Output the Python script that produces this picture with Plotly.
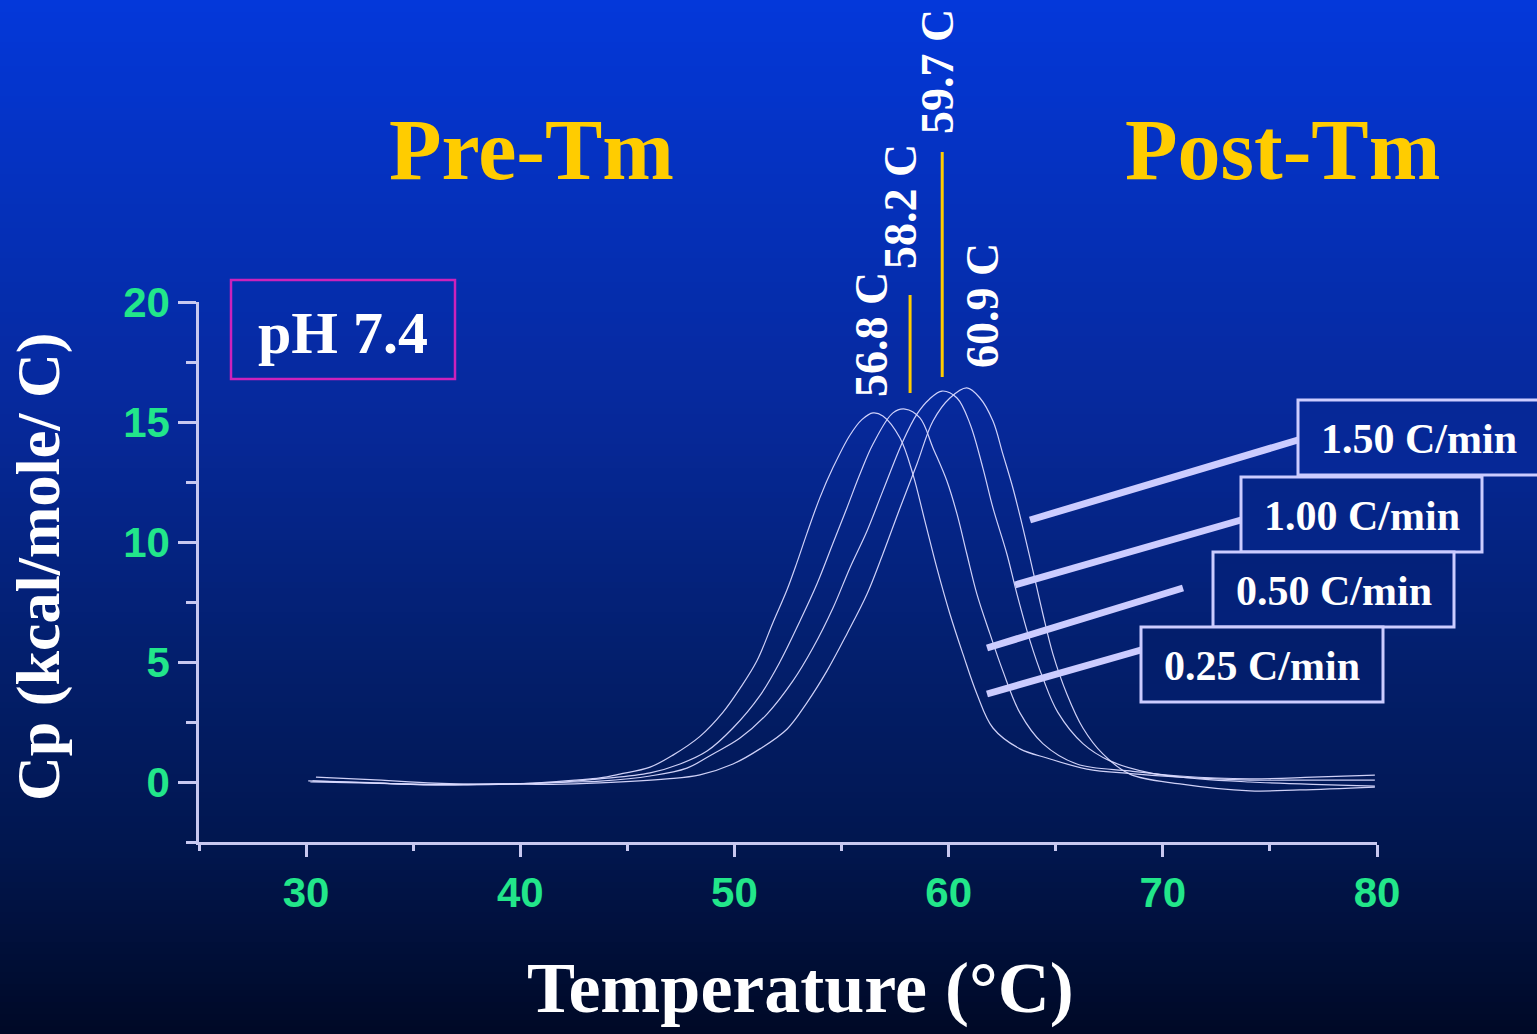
import plotly.graph_objects as go

# ---------------- data ----------------
rate_labels = ["0.25 C/min", "0.50 C/min", "1.00 C/min", "1.50 C/min"]
tm_values = [56.8, 58.2, 59.7, 60.9]
tm_labels = ["56.8 C", "58.2 C", "59.7 C", "60.9 C"]

temp_025 = [30.46, 33.0, 36.0, 38.5, 41.0, 42.6, 43.72, 44.65, 46.06, 47.13, 48.39, 49.46, 50.26, 51.05,
            51.80, 52.45, 52.92, 53.38, 53.99, 54.60, 55.39, 55.95, 56.47, 56.93, 57.73, 58.33, 58.89,
            59.45, 60.06, 60.67, 61.32, 62.07, 63.33, 64.59, 66.46, 68.5, 70.8, 74.07, 76.4, 79.9]
cp_025 = [0.20, 0.10, -0.05, -0.10, -0.02, 0.08, 0.17, 0.33, 0.62, 1.12, 1.90, 2.90, 3.90, 5.05,
          6.65, 8.00, 9.15, 10.35, 11.85, 13.10, 14.45, 15.10, 15.38, 15.25, 14.33, 12.83, 10.88,
          8.92, 7.00, 5.33, 3.67, 2.25, 1.38, 1.00, 0.54, 0.35, 0.20, 0.08, 0.08, 0.08]

temp_050 = [30.1, 32.5, 35.0, 37.5, 40.0, 42.0, 43.72, 46.06, 47.46, 48.72, 49.93, 51.19, 52.12, 53.06,
            53.85, 54.60, 55.25, 55.86, 56.47, 57.40, 57.96, 58.66, 59.27, 59.92, 60.39, 60.85, 61.32,
            61.93, 62.53, 63.33, 64.40, 65.99, 68.46, 70.8, 74.07, 77.0, 79.9]
cp_050 = [0.05, -0.02, -0.10, -0.12, -0.08, 0.0, 0.13, 0.38, 0.75, 1.29, 2.25, 3.60, 5.00, 6.71,
          8.25, 9.95, 11.42, 12.83, 14.08, 15.38, 15.54, 15.17, 13.92, 12.54, 11.17, 9.50, 7.83,
          6.17, 4.63, 2.88, 1.60, 0.75, 0.46, 0.25, 0.13, 0.20, 0.29]

temp_100 = [30.3, 33.0, 35.5, 38.0, 40.5, 42.5, 43.72, 46.06, 47.78, 49.00, 50.26, 51.52, 52.73, 53.66,
            54.60, 55.39, 56.19, 56.93, 57.87, 58.52, 59.10, 59.69, 60.39, 61.00, 61.60, 62.07, 62.72,
            63.19, 63.80, 64.40, 65.10, 66.27, 67.53, 69.4, 71.73, 74.07, 77.0, 79.9]
cp_100 = [0.05, -0.03, -0.12, -0.10, -0.06, 0.0, 0.04, 0.25, 0.58, 1.17, 1.83, 2.83, 4.21, 5.58,
          7.25, 8.92, 10.46, 12.13, 14.21, 15.33, 15.95, 16.29, 16.00, 14.92, 13.08, 11.42, 9.50,
          7.83, 5.88, 4.33, 2.90, 1.60, 0.88, 0.38, 0.13, 0.0, -0.10, -0.17]

temp_150 = [30.2, 33.0, 36.0, 39.0, 41.5, 43.72, 46.85, 48.39, 49.93, 51.19, 52.45, 53.38, 54.32, 55.25,
            56.19, 56.93, 57.73, 58.52, 59.27, 60.06, 60.85, 61.46, 62.07, 62.53, 63.00, 63.47, 63.94,
            64.40, 64.87, 65.52, 66.27, 67.20, 68.46, 70.8, 74.07, 76.4, 79.9]
cp_150 = [0.0, -0.05, -0.10, -0.08, -0.10, -0.04, 0.13, 0.30, 0.75, 1.38, 2.20, 3.30, 4.63, 6.17,
          7.83, 9.50, 11.42, 13.25, 15.04, 16.00, 16.42, 16.00, 15.04, 13.67, 12.25, 10.58, 8.79,
          7.00, 5.33, 3.67, 2.25, 1.17, 0.33, -0.08, -0.37, -0.33, -0.21]

x_ticks = [30, 40, 50, 60, 70, 80]
y_ticks = [0, 5, 10, 15, 20]

# ---------------- layout geometry (pixels) ----------------
W, H = 1537, 1034
ML, MR, MT, MB = 199, 160, 302, 192
PW, PH = W - ML - MR, H - MT - MB


def px(xp):
    return (xp - ML) / PW


def py(yp):
    return (H - MB - yp) / PH


stops = [(0, (4, 56, 218)), (430, (6, 40, 152)), (650, (3, 31, 110)), (850, (1, 22, 78)), (1034, (0, 9, 38))]


def bg(yp):
    for (a, ca), (b, cb) in zip(stops[:-1], stops[1:]):
        if a <= yp <= b:
            t = (yp - a) / (b - a)
            c = [round(ca[i] + (cb[i] - ca[i]) * t) for i in range(3)]
            return "rgb(%d,%d,%d)" % tuple(c)
    return "rgb(0,9,38)"


shapes = []
step = 6
for yy in range(0, H, step):
    shapes.append(dict(type="rect", xref="paper", yref="paper", layer="below",
                       x0=-0.25, x1=1.25, y0=py(yy + step + 1), y1=py(yy),
                       fillcolor=bg(yy + step / 2), line=dict(width=0)))

fig = go.Figure()
curve_color = "rgba(218,218,255,0.95)"
for t, c in [(temp_025, cp_025), (temp_050, cp_050), (temp_100, cp_100), (temp_150, cp_150)]:
    fig.add_trace(go.Scatter(x=t, y=c, mode="lines", showlegend=False,
                             line=dict(color=curve_color, width=1.2, shape="spline", smoothing=1.0)))

axis_col = "#c8c8f0"
green = "#22e68a"
serif = "Liberation Serif, Times New Roman, serif"
sans = "Liberation Sans, Arial, sans-serif"

# pH box
shapes.append(dict(type="rect", xref="paper", yref="paper", layer="above",
                   x0=px(231), x1=px(455), y0=py(379), y1=py(280),
                   line=dict(color="#cc22bb", width=2.5), fillcolor="rgba(0,0,0,0)"))

# Tm marker lines (58.2 and 59.7)
shapes.append(dict(type="line", xref="x", yref="paper", x0=tm_values[1], x1=tm_values[1],
                   y0=py(393), y1=py(295), line=dict(color="#ffcc00", width=3)))
shapes.append(dict(type="line", xref="x", yref="paper", x0=tm_values[2], x1=tm_values[2],
                   y0=py(377), y1=py(152), line=dict(color="#ffcc00", width=3)))

# rate boxes (pixel boxes) and leader lines
boxes = {  # label: (x0, x1, y0, y1)
    "1.50 C/min": (1298, 1539, 400, 475),
    "1.00 C/min": (1241, 1482, 477, 552),
    "0.50 C/min": (1213, 1454, 552, 627),
    "0.25 C/min": (1141, 1383, 627, 702),
}
leaders = {
    "1.50 C/min": (1030, 520, 1298, 440),
    "1.00 C/min": (1015, 585, 1241, 520),
    "0.50 C/min": (987, 648, 1183, 588),
    "0.25 C/min": (987, 694, 1141, 650),
}
annotations = []
for lab in ["1.50 C/min", "1.00 C/min", "0.50 C/min", "0.25 C/min"]:
    x0, y0, x1, y1 = leaders[lab]
    shapes.append(dict(type="line", xref="paper", yref="paper", layer="above",
                       x0=px(x0), y0=py(y0), x1=px(x1), y1=py(y1),
                       line=dict(color="#ccccff", width=7)))
for lab in ["1.50 C/min", "1.00 C/min", "0.50 C/min", "0.25 C/min"]:
    bx0, bx1, by0, by1 = boxes[lab]
    shapes.append(dict(type="rect", xref="paper", yref="paper", layer="above",
                       x0=px(bx0), x1=px(bx1), y0=py(by1), y1=py(by0),
                       fillcolor=bg((by0 + by1) / 2), line=dict(color="#ccccff", width=3)))
    annotations.append(dict(xref="paper", yref="paper", x=px((bx0 + bx1) / 2), y=py((by0 + by1) / 2 + 1),
                            text="<b>%s</b>" % lab, showarrow=False, xanchor="center", yanchor="middle",
                            font=dict(family=serif, size=42, color="white")))

# peak labels (rotated)
peak_pos = [(871, 335), (900, 207), (937, 72), (982, 306)]
for lab, (xx, yy) in zip(tm_labels, peak_pos):
    annotations.append(dict(xref="paper", yref="paper", x=px(xx), y=py(yy), text="<b>%s</b>" % lab,
                            textangle=-90, showarrow=False, xanchor="center", yanchor="middle",
                            font=dict(family=serif, size=46, color="white")))


def label(xx, yy, text, size, color, angle=0):
    return dict(xref="paper", yref="paper", x=px(xx), y=py(yy), text=text, showarrow=False,
                xanchor="center", yanchor="middle", textangle=angle,
                font=dict(family=serif, size=size, color=color))


annotations += [
    label(531, 150, "<b>Pre-Tm</b>", 86, "#ffcc00"),
    label(1282, 150, "<b>Post-Tm</b>", 86, "#ffcc00"),
    label(343, 333, "<b>pH 7.4</b>", 60, "white"),
    label(38, 567, "<b>Cp (kcal/mole/ C)</b>", 62, "white", -90),
    label(800, 988, "<b>Temperature (°C)</b>", 72, "white"),
]

fig.update_layout(
    width=W, height=H, autosize=False,
    margin=dict(l=ML, r=MR, t=MT, b=MB, pad=0),
    paper_bgcolor=bg(517), plot_bgcolor="rgba(0,0,0,0)",
    shapes=shapes, annotations=annotations, showlegend=False,
    xaxis=dict(range=[25, 80], tickvals=x_ticks, ticktext=[str(v) for v in x_ticks],
               showline=True, linecolor=axis_col, linewidth=2.5, ticks="outside", ticklen=12,
               tickwidth=2.5, tickcolor=axis_col, showgrid=False, zeroline=False,
               tickfont=dict(family=sans, size=42, color=green, weight="bold"), ticklabelstandoff=0,
               minor=dict(dtick=5, tick0=25, ticks="outside", ticklen=6, tickwidth=2.5, tickcolor=axis_col)),
    yaxis=dict(range=[-2.5, 20], tickvals=y_ticks, ticktext=[str(v) for v in y_ticks],
               showline=True, linecolor=axis_col, linewidth=2.5, ticks="outside", ticklen=18,
               tickwidth=2.5, tickcolor=axis_col, showgrid=False, zeroline=False,
               tickfont=dict(family=sans, size=42, color=green, weight="bold"), ticklabelstandoff=0,
               minor=dict(dtick=2.5, tick0=0, ticks="outside", ticklen=10, tickwidth=2.5, tickcolor=axis_col)),
)

fig.write_html("out.html", post_script="document.body.style.margin='0';document.body.style.overflow='hidden';")
